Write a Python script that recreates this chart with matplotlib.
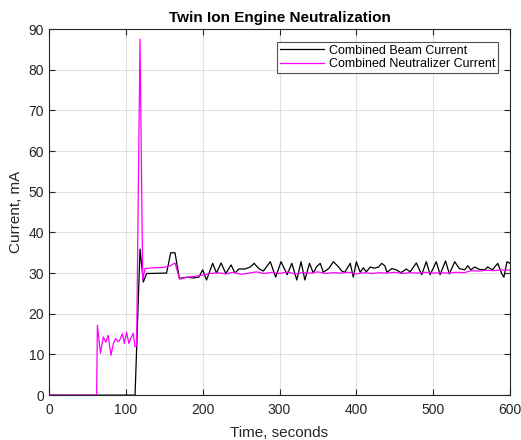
import numpy as np
import matplotlib
matplotlib.use("Agg")
import matplotlib.pyplot as plt

plt.rcParams['font.family'] = ['Liberation Sans', 'DejaVu Sans']

# Combined Beam Current (time [s], current [mA])
beam_t = [0, 112, 118.5, 122.8, 127, 153, 158.4, 164, 169.7, 180, 188, 195,
          200, 205, 213, 218, 224, 230, 237, 242, 247, 255, 262, 267, 273, 279,
          288, 295, 302, 310, 316, 322.5, 328, 333, 339, 344, 348, 353, 357, 364,
          370, 377, 381, 385, 392, 396, 400, 405, 409, 413, 418, 423, 429, 433,
          437, 440, 446, 452, 458, 465, 470, 478, 485, 491, 496, 504, 509, 516,
          521, 528, 534, 541, 545, 549, 554, 560, 567, 571, 577, 584, 589, 592,
          596, 600]
beam_i = [0, 0, 35.9, 27.8, 29.9, 30, 35, 35, 28.7, 29, 28.8, 29,
          30.8, 28.3, 32.4, 30, 32.5, 29.9, 32, 30, 31, 31, 31.5, 32.4, 31.1, 30.5,
          32.8, 29, 32.8, 29.6, 32.4, 28.3, 32.8, 28.3, 32.4, 30, 31.5, 32.4, 30.2, 31.1,
          32.8, 31.5, 30.5, 30.2, 32.4, 29, 32.8, 30.2, 31.3, 30.3, 31.5, 31.2, 31.5, 32.4,
          31.8, 30.2, 31.1, 30.8, 30.1, 31, 30.3, 32.5, 29.6, 32.8, 29.6, 32.8, 29.6, 33,
          29.8, 32.8, 31.1, 30.8, 31.8, 30.8, 31.5, 30.9, 30.8, 31.5, 30.8, 32.4, 29.9, 29,
          32.8, 32.4]

# Combined Neutralizer Current
neut_t = [0, 62, 63, 67, 70.7, 74, 77, 80.7, 83.8, 86.8, 90, 92, 95.5, 98, 101,
          104, 106.6, 109.6, 112, 114, 118.5, 122, 125, 135, 150, 158, 164, 170,
          180, 190, 200, 210, 220, 230, 240, 250, 260, 270, 280, 290, 300, 310,
          320, 330, 340, 350, 360, 370, 380, 390, 400, 410, 420, 430, 440, 450,
          460, 470, 480, 490, 500, 510, 520, 530, 540, 550, 560, 570, 580, 590, 600]
neut_i = [0, 0, 17.2, 10.3, 14.3, 13, 14.7, 9.8, 12.7, 13.9, 13.1, 13.5, 15.1, 12.7, 15.5,
          12.7, 14, 15.2, 11.9, 12, 87.5, 28.3, 31.1, 31.3, 31.4, 31.8, 32.5, 28.5,
          29, 29.2, 29.5, 29.9, 30.1, 29.8, 30.2, 29.7, 30.0, 30.3, 29.9, 30.2, 29.9, 30.3,
          29.8, 30.1, 30.0, 30.3, 29.9, 30.1, 30.0, 30.2, 29.8, 30.1, 29.9, 30.1, 30.0, 30.2,
          29.9, 30.1, 30.0, 30.2, 30.0, 30.1, 30.0, 30.2, 30.1, 30.6, 30.5, 30.7, 30.6, 30.8, 30.7]

fig = plt.figure(figsize=(5.21, 4.40), dpi=100)
ax = fig.add_axes([0.094, 0.102, 0.885, 0.832])

ax.plot(beam_t, beam_i, color='black', lw=0.9, label='Combined Beam Current')
ax.plot(neut_t, neut_i, color='#FF00FF', lw=0.9, label='Combined Neutralizer Current')

ax.set_xlim(0, 600)
ax.set_ylim(0, 90)
ax.set_xticks(np.arange(0, 601, 100))
ax.set_yticks(np.arange(0, 91, 10))
ax.grid(True, color='#e0e0e0', lw=0.8)
ax.set_axisbelow(True)
ax.tick_params(direction='in', length=4, colors='#262626', labelsize=10,
               top=True, right=True)
ax.tick_params(axis='x', pad=6)
for s in ax.spines.values():
    s.set_color('#262626')
    s.set_linewidth(0.8)

ax.set_title('Twin Ion Engine Neutralization', fontsize=11, fontweight='bold', pad=5)
ax.set_xlabel('Time, seconds', fontsize=11, color='#262626', labelpad=6)
ax.set_ylabel('Current, mA', fontsize=11, color='#262626')

leg = ax.legend(loc='upper right', bbox_to_anchor=(0.981, 0.974), fontsize=9,
                fancybox=False, edgecolor='#262626', handlelength=3.5,
                borderpad=0.2, labelspacing=0.1, handletextpad=0.4, borderaxespad=0.3)
leg.get_frame().set_linewidth(0.8)

plt.savefig('out.png', dpi=100)
